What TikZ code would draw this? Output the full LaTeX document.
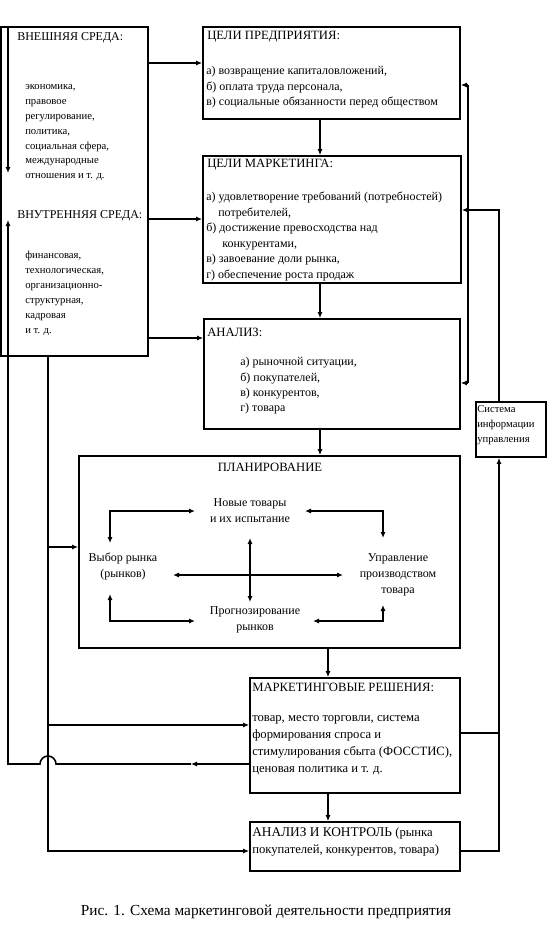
\documentclass[tikz,border=0pt]{standalone}
\usepackage{fontspec}
\setmainfont{Liberation Serif}
\usepackage{tikz}
\usetikzlibrary{arrows.meta,positioning,fit}
\tikzset{
  mk_box/.style={rectangle,draw=black,line width=1.3pt,inner sep=0pt},
  mk_head/.style={anchor=west,inner sep=0pt,font=\fontsize{9.5}{11}\selectfont},
  mk_list/.style={anchor=north west,align=left,inner sep=0pt,font=\fontsize{9}{11.6}\selectfont},
  mk_env_head/.style={anchor=west,inner sep=0pt,font=\fontsize{9}{11}\selectfont},
  mk_env_list/.style={anchor=north west,align=left,inner sep=0pt,font=\fontsize{8}{11.2}\selectfont},
  mk_plan/.style={align=center,inner sep=1pt,font=\fontsize{9}{12}\selectfont},
  arr/.style={-{Latex[length=4.5pt,width=3.8pt]},line width=1.2pt},
  arrb/.style={{Latex[length=4.5pt,width=3.8pt]}-{Latex[length=4.5pt,width=3.8pt]},line width=1.3pt},
  thk/.style={line width=2pt},
}

\begin{document}
\begin{tikzpicture}[x=0.75pt,y=-0.75pt]
  \useasboundingbox (0,0) rectangle (554,931);
  % boxes
  \node[mk_box,fit={(1,27)(148,356)}] (env) {};
  \node[mk_box,fit={(203,27)(460,119)}] (cp) {};
  \node[mk_box,fit={(203,156)(461,283)}] (cm) {};
  \node[mk_box,fit={(204,319)(460,429)}] (an) {};
  \node[mk_box,fit={(476,402)(546,457)}] (siu) {};
  \node[mk_box,fit={(79,456)(460,648)}] (pl) {};
  \node[mk_box,fit={(250,678)(460,793)}] (mr) {};
  \node[mk_box,fit={(250,822)(460,871)}] (ak) {};

  \node[mk_env_head] (ext_t) at (17,38) {ВНЕШНЯЯ СРЕДА:};
  \node[mk_env_list] (ext_l) at (25,84)
    {экономика,\\правовое\\регулирование,\\политика,\\социальная сфера,\\международные\\отношения и т. д.};
  \node[mk_env_head] (int_t) at (17,216) {ВНУТРЕННЯЯ СРЕДА:};
  \node[mk_env_list] (int_l) at (25,251)
    {финансовая,\\технологическая,\\организационно-\\структурная,\\кадровая\\и т. д.};

  \node[mk_head] (cp_t) at (207,37) {ЦЕЛИ ПРЕДПРИЯТИЯ:};
  \node[mk_list] (cp_l) at (206,66)
    {а) возвращение капиталовложений,\\б) оплата труда персонала,\\в) социальные обязанности перед обществом};
  \node[mk_head] (cm_t) at (207,165) {ЦЕЛИ МАРКЕТИНГА:};
  \node[mk_list] (cm_l) at (206,192)
    {а) удовлетворение требований (потребностей)\\\hspace*{9pt}потребителей,\\б) достижение превосходства над\\\hspace*{12pt}конкурентами,\\в) завоевание доли рынка,\\г) обеспечение роста продаж};
  \node[mk_head] (an_t) at (207,332) {АНАЛИЗ:};
  \node[mk_list] (an_l) at (240,357)
    {а) рыночной ситуации,\\б) покупателей,\\в) конкурентов,\\г) товара};
  \node[mk_env_list] (siu_t) at (477,405) {Система\\информации\\управления};

  \node[font=\fontsize{9.5}{11}\selectfont] (pl_t) at (270,467) {ПЛАНИРОВАНИЕ};
  \node[mk_plan] (nt) at (250,511) {Новые товары\\и их испытание};
  \node[mk_plan] (vr) at (123,566) {Выбор рынка\\(рынков)};
  \node[mk_plan] (upr) at (398,575) {Управление\\производством\\товара};
  \node[mk_plan] (prg) at (255,620) {Прогнозирование\\рынков};

  \node[mk_head] (mr_t) at (252,687) {МАРКЕТИНГОВЫЕ РЕШЕНИЯ:};
  \node[mk_list,font=\fontsize{9.5}{12.8}\selectfont] (mr_l) at (252,715)
    {товар, место торговли, система\\формирования спроса и\\стимулирования сбыта (ФОССТИС),\\ценовая политика и т. д.};
  \node[mk_list,font=\fontsize{9.5}{12.8}\selectfont] (ak_t) at (252,827)
    {\fontsize{10}{12.8}\selectfont АНАЛИЗ И КОНТРОЛЬ \fontsize{9.5}{12.8}\selectfont(рынка\\покупателей, конкурентов, товара)};

  \node[font=\fontsize{11.5}{13}\selectfont] (cap) at (266,912)
    {Рис. 1. Схема маркетинговой деятельности предприятия};

  % main chain
  \draw[arr] (320,0 |- cp.south) -- (320,0 |- cm.north);
  \draw[arr] (320,0 |- cm.south) -- (320,0 |- an.north);
  \draw[arr] (320,0 |- an.south) -- (320,0 |- pl.north);
  \draw[arr] (328,0 |- pl.south) -- (328,0 |- mr.north);
  \draw[arr] (328,0 |- mr.south) -- (328,0 |- ak.north);

  % environment
  \draw[arr,thk] (env.east |- 0,63) -- (cp.west |- 0,63);
  \draw[arr] (env.east |- 0,219) -- (cm.west |- 0,219);
  \draw[arr,thk] (env.east |- 0,338) -- (an.west |- 0,338);
  \draw[arr] (8,0 |- env.north) -- (8,173);

  % feedback on the left
  \draw[arr] (48,0 |- env.south) |- (ak.west |- 0,851);
  \draw[arr,thk] (48,547) -- (pl.west |- 0,547);
  \draw[arr] (48,725) -- (mr.west |- 0,725);
  \coordinate (ret) at (191,764);
  \draw[arr] (mr.west |- ret) -- (ret);
  \draw[arr] (ret) -- (56,764) arc[start angle=0,end angle=180,radius=6pt] -- (8,764) -- (8,220);

  % information system
  \coordinate (bus_t) at (468,85);
  \coordinate (bus_b) at (468,383);
  \draw[thk] (bus_t) -- (bus_b);
  \draw[arr,thk] (bus_t) -- (cp.east |- bus_t);
  \draw[arr,thk] (bus_b) -- (an.east |- bus_b);
  \draw[arr] (499,0 |- siu.north) |- (cm.east |- 0,210);
  \draw[arr] (ak.east |- 0,851) -| (499,0 |- siu.south);
  \draw[thk] (mr.east |- 0,733) -- (499,733);

  % planning
  \draw[arrb] (110,543) |- (nt.west -| 195,0);
  \draw[arrb] (nt.east -| 305,0) -| (383,538);
  \draw[arrb] (110,594) |- (195,621);
  \draw[arrb] (313,621) -| (383,605);
  \draw[arrb] (173,575) -- (343,575);
  \draw[arrb] (250,538) -- (250,602);
\end{tikzpicture}
\end{document}
